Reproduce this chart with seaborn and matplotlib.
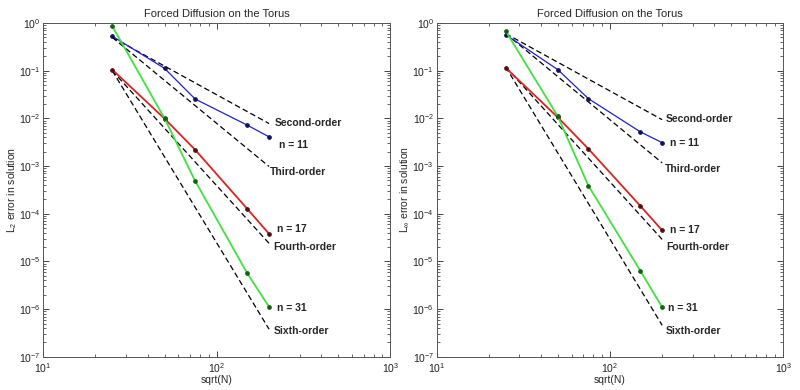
import matplotlib
matplotlib.use("Agg")
import matplotlib.pyplot as plt
from matplotlib.ticker import LogLocator, NullFormatter
import numpy as np
import pandas as pd
import seaborn as sns

sns.set_theme(style="ticks")
plt.rcParams['font.family'] = ['Liberation Sans', 'DejaVu Sans']
plt.rcParams['mathtext.fontset'] = 'custom'
plt.rcParams['mathtext.rm'] = 'Liberation Sans'
plt.rcParams['mathtext.it'] = 'Liberation Sans'

# ---- data ----
sqrtN = [25, 50, 75, 150, 200]

l2_n11 = [0.53, 0.112, 0.0255, 0.0072, 0.0041]
l2_n17 = [0.105, 0.0099, 0.0022, 1.26e-4, 3.8e-5]
l2_n31 = [0.86, 0.010, 4.9e-4, 5.6e-6, 1.12e-6]

linf_n11 = [0.57, 0.105, 0.026, 0.0052, 0.0031]
linf_n17 = [0.115, 0.0105, 0.0023, 1.45e-4, 4.5e-5]
linf_n31 = [0.68, 0.011, 3.9e-4, 6.3e-6, 1.1e-6]

ref_x = [25, 200]
ref_names = ["Second-order", "Third-order", "Fourth-order", "Sixth-order"]
l2_ref = {"Second-order": [0.5, 0.0078], "Third-order": [0.5, 9.8e-4],
          "Fourth-order": [0.1, 2.4e-5], "Sixth-order": [0.1, 3.8e-7]}
linf_ref = {"Second-order": [0.6, 0.0094], "Third-order": [0.6, 1.17e-3],
            "Fourth-order": [0.12, 2.9e-5], "Sixth-order": [0.12, 4.6e-7]}

series_names = ["n = 11", "n = 17", "n = 31"]
title = "Forced Diffusion on the Torus"
xlabel = "sqrt(N)"
ylabels = [r"L$_2$ error in solution", r"L$_\infty$ error in solution"]

colors = {"n = 11": "#1f1fd8", "n = 17": "#dd2222", "n = 31": "#3ee23e"}
mcolors = {"n = 11": "#101060", "n = 17": "#501010", "n = 31": "#106010"}
lws = {"n = 11": 0.9, "n = 17": 1.3, "n = 31": 1.3}

fig = plt.figure(figsize=(8, 3.9), dpi=100)
axL = fig.add_axes([0.054, 0.085, 0.434, 0.856])
axR = fig.add_axes([0.546, 0.085, 0.433, 0.856])

panels = [
    (axL, [l2_n11, l2_n17, l2_n31], l2_ref, ylabels[0],
     {"Second-order": (0.668, 0.700), "n = 11": (0.680, 0.635), "Third-order": (0.654, 0.554),
      "n = 17": (0.674, 0.383), "Fourth-order": (0.663, 0.329),
      "n = 31": (0.674, 0.147), "Sixth-order": (0.663, 0.078)}),
    (axR, [linf_n11, linf_n17, linf_n31], linf_ref, ylabels[1],
     {"Second-order": (0.662, 0.713), "n = 11": (0.673, 0.641), "Third-order": (0.659, 0.563),
      "n = 17": (0.673, 0.380), "Fourth-order": (0.662, 0.329),
      "n = 31": (0.667, 0.147), "Sixth-order": (0.662, 0.078)}),
]

for ax, vals, refs, ylab, labpos in panels:
    for name in ref_names:
        df = pd.DataFrame({"x": ref_x, "y": refs[name]})
        sns.lineplot(data=df, x="x", y="y", ax=ax, color="black", lw=0.9,
                     linestyle=(0, (4.5, 2.5)), zorder=2)
    for name, v in zip(series_names, vals):
        df = pd.DataFrame({"x": sqrtN, "y": v})
        sns.lineplot(data=df, x="x", y="y", ax=ax, color=colors[name], lw=lws[name],
                     marker="o", markersize=2.6, markerfacecolor=mcolors[name],
                     markeredgecolor=mcolors[name], zorder=3)
    ax.set_xscale("log")
    ax.set_yscale("log")
    ax.set_xlim(10, 1000)
    ax.set_ylim(1e-7, 1)
    ax.set_title(title, fontsize=8, pad=4)
    ax.set_xlabel(xlabel, fontsize=7.5, labelpad=0)
    ax.set_ylabel(ylab, fontsize=7.5, labelpad=0)
    ax.xaxis.set_major_locator(LogLocator(base=10, numticks=10))
    ax.xaxis.set_minor_locator(LogLocator(base=10, subs=np.arange(2, 10), numticks=20))
    ax.xaxis.set_minor_formatter(NullFormatter())
    ax.yaxis.set_major_locator(LogLocator(base=10, numticks=20))
    ax.yaxis.set_minor_locator(LogLocator(base=10, subs=np.arange(2, 10), numticks=20))
    ax.yaxis.set_minor_formatter(NullFormatter())
    ax.tick_params(which="both", direction="in", top=True, right=True, labelsize=7.5,
                   labelcolor="#222222")
    ax.tick_params(axis="y", which="both", pad=2)
    ax.tick_params(axis="x", which="both", pad=3)
    ax.tick_params(which="major", length=4, width=0.6)
    ax.tick_params(which="minor", length=2, width=0.5)
    for sp in ax.spines.values():
        sp.set_linewidth(0.7)
        sp.set_color("#555555")
    for txt, (px, py) in labpos.items():
        ax.text(px, py, txt, transform=ax.transAxes, fontsize=7.5, fontweight="bold",
                ha="left", va="center")

fig.savefig("out.png", dpi=100)
